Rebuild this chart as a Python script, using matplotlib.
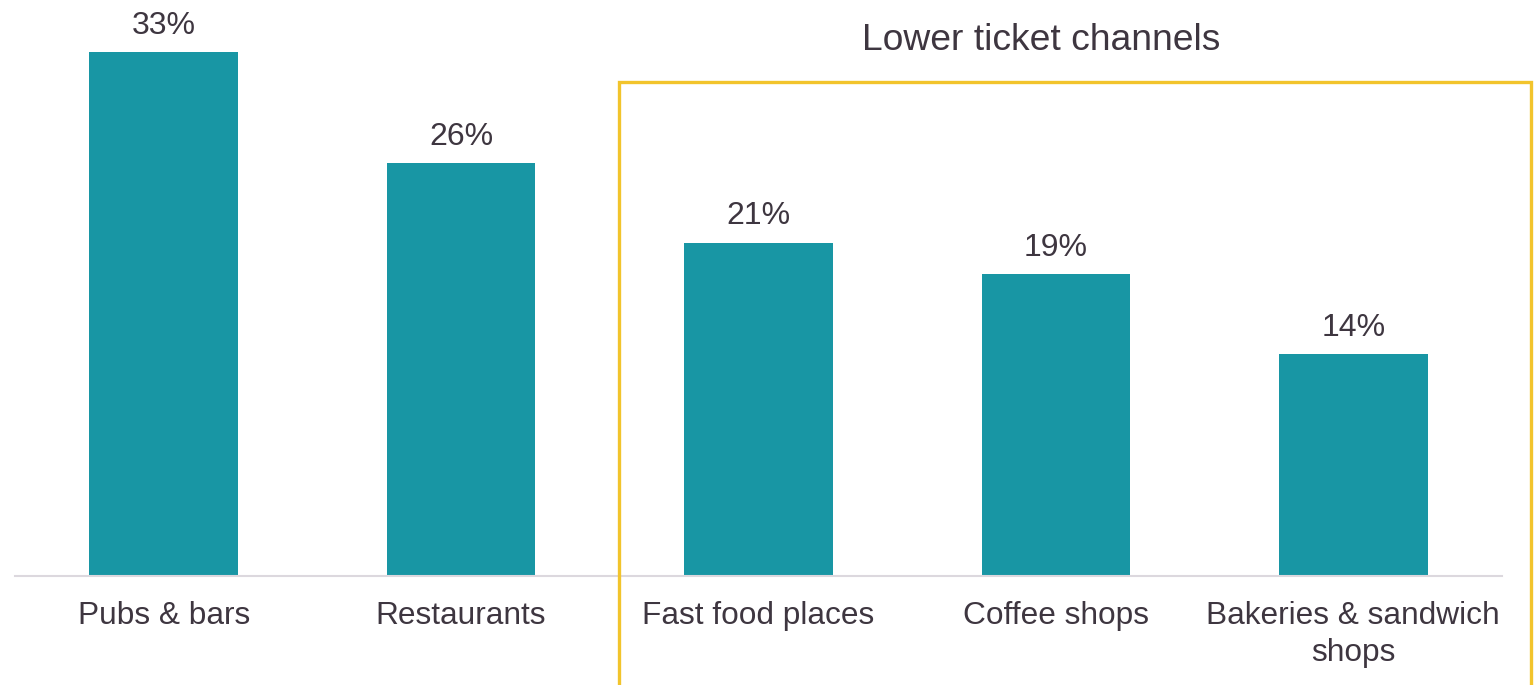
import matplotlib
matplotlib.use("Agg")
import matplotlib.pyplot as plt
from matplotlib.patches import Rectangle

categories = ["Pubs & bars", "Restaurants", "Fast food places", "Coffee shops",
              "Bakeries & sandwich\nshops"]
values = [33, 26, 21, 19, 14]
box_title = "Lower ticket channels"

teal, gold, ink, grid = "#1896A4", "#F2C42C", "#3E3640", "#DCD8DE"

plt.rcParams["font.family"] = ["Liberation Sans", "DejaVu Sans"]

W, H = 1534, 685
fig = plt.figure(figsize=(W / 100, H / 100), dpi=100)
# axes: x from 15px to 1502px, baseline at 576px, top at 0
ax = fig.add_axes([15 / W, (H - 576) / H, (1502 - 15) / W, 576 / H])
x = range(len(categories))
ax.bar(x, values, width=0.5, color=teal)
ax.set_xlim(-0.5, len(categories) - 0.5)
ax.set_ylim(0, 576 / 15.88)
for xi, v in zip(x, values):
    ax.annotate(f"{v}%", (xi, v), xytext=(0, 8), textcoords="offset points",
                ha="center", va="bottom", fontsize=23, color=ink)

ax.set_xticks(list(x))
ax.set_xticklabels(categories, fontsize=22.8, color=ink, linespacing=1.3)
ax.tick_params(axis="x", length=0, pad=18)
ax.set_yticks([])
for s in ["top", "right", "left"]:
    ax.spines[s].set_visible(False)
ax.spines["bottom"].set_color(grid)
ax.spines["bottom"].set_linewidth(1.5)

# highlight box (figure pixels)
fig.patches.append(Rectangle((619 / W, -0.05), (1531 - 619) / W, (H - 82) / H + 0.05,
                             transform=fig.transFigure, fill=False,
                             edgecolor=gold, linewidth=2.4, clip_on=False))
fig.text(1041 / W, (H - 41) / H, box_title, ha="center", va="center",
         fontsize=26.8, color=ink)

fig.savefig("out.png", dpi=100)
